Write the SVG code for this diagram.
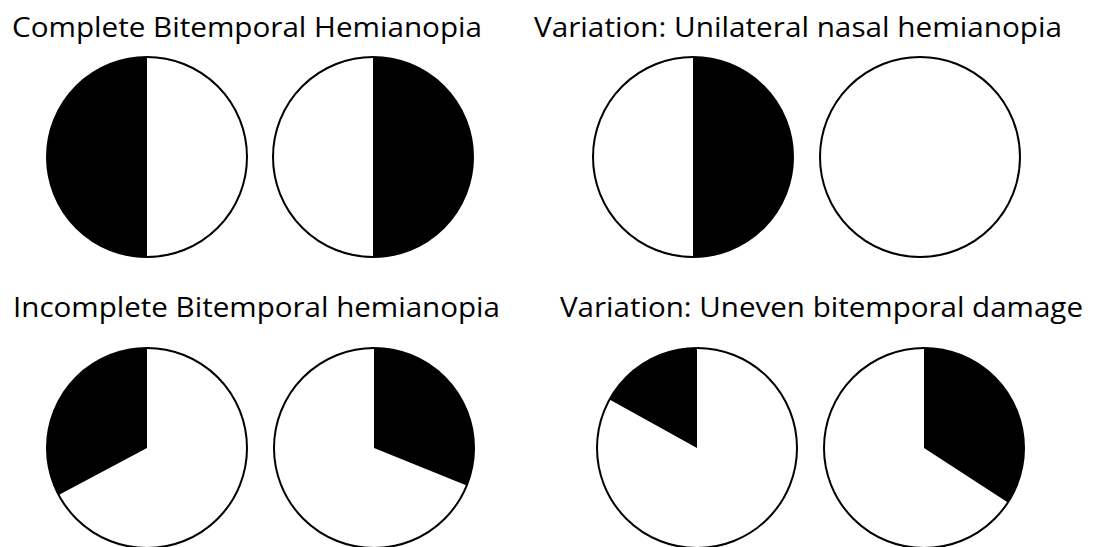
<svg xmlns="http://www.w3.org/2000/svg" width="1093" height="547" viewBox="0 0 1093 547">
<style>
.t{font-family:"Open Sans","Noto Sans","Liberation Sans",sans-serif;font-size:27px;fill:#000}
.ring{fill:none;stroke:#000;stroke-width:2}
.bg{fill:#fff}
.blk{fill:#000}
</style>
<rect width="1093" height="547" fill="#fff"/>
<g id="labels">
<text class="t" x="12" y="37" textLength="470" lengthAdjust="spacingAndGlyphs">Complete Bitemporal Hemianopia</text>
<text class="t" x="534" y="37" textLength="528" lengthAdjust="spacingAndGlyphs">Variation: Unilateral nasal hemianopia</text>
<text class="t" x="13" y="317" textLength="487" lengthAdjust="spacingAndGlyphs">Incomplete Bitemporal hemianopia</text>
<text class="t" x="560" y="317" textLength="523" lengthAdjust="spacingAndGlyphs">Variation: Uneven bitemporal damage</text>
</g>
<g id="complete-left">
<circle class="bg" cx="147" cy="157" r="100"/>
<path class="blk" d="M147,57 A100,100 0 0,0 147,257 Z"/>
<circle class="ring" cx="147" cy="157" r="100"/>
</g>
<g id="complete-right">
<circle class="bg" cx="373" cy="157" r="100"/>
<path class="blk" d="M373,57 A100,100 0 0,1 373,257 Z"/>
<circle class="ring" cx="373" cy="157" r="100"/>
</g>
<g id="unilateral-left">
<circle class="bg" cx="693" cy="157" r="100"/>
<path class="blk" d="M693,57 A100,100 0 0,1 693,257 Z"/>
<circle class="ring" cx="693" cy="157" r="100"/>
</g>
<g id="unilateral-right">
<circle class="bg" cx="920" cy="157" r="100"/>
<circle class="ring" cx="920" cy="157" r="100"/>
</g>
<g id="incomplete-left">
<circle class="bg" cx="147" cy="448" r="100"/>
<path class="blk" d="M147,448 L147,348 A100,100 0 0,0 58.7,494.9 Z"/>
<circle class="ring" cx="147" cy="448" r="100"/>
</g>
<g id="incomplete-right">
<circle class="bg" cx="374" cy="448" r="100"/>
<path class="blk" d="M374,448 L374,348 A100,100 0 0,1 466.7,485.5 Z"/>
<circle class="ring" cx="374" cy="448" r="100"/>
</g>
<g id="uneven-left">
<circle class="bg" cx="697" cy="448" r="100"/>
<path class="blk" d="M697,448 L697,348 A100,100 0 0,0 609.5,399.5 Z"/>
<circle class="ring" cx="697" cy="448" r="100"/>
</g>
<g id="uneven-right">
<circle class="bg" cx="924" cy="448" r="100"/>
<path class="blk" d="M924,448 L924,348 A100,100 0 0,1 1007.9,502.5 Z"/>
<circle class="ring" cx="924" cy="448" r="100"/>
</g>
<g id="connectors"/>
</svg>
